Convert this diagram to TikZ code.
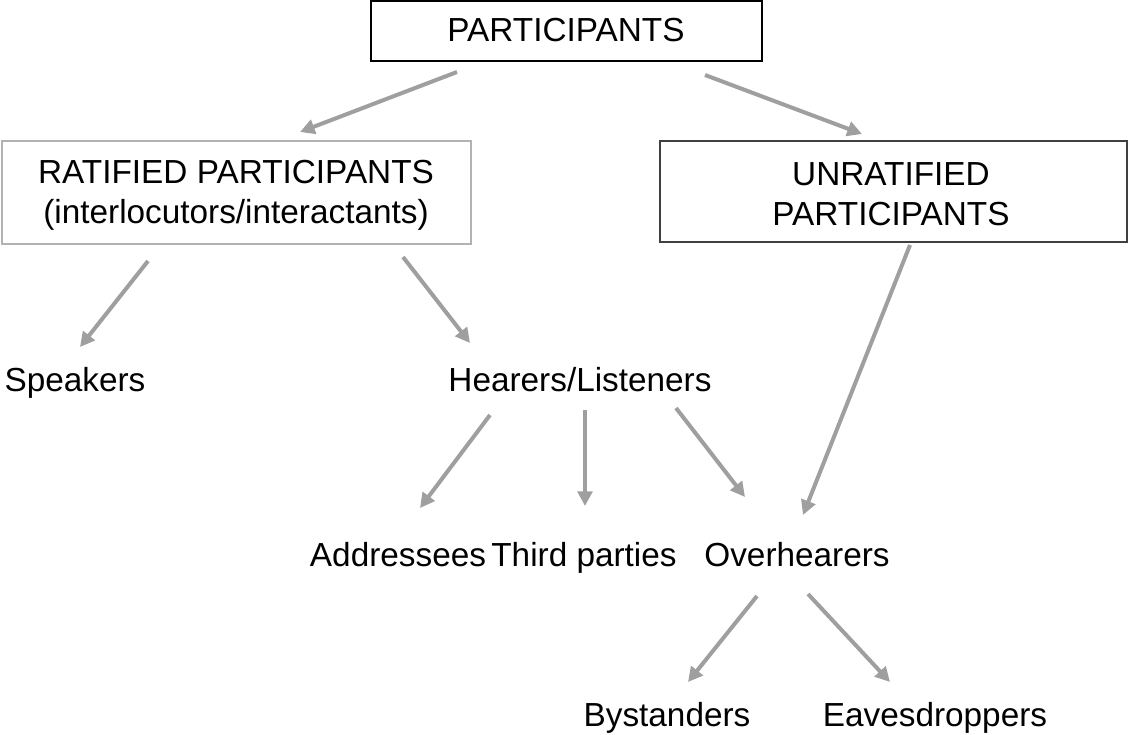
\documentclass[tikz,border=0pt]{standalone}
\usepackage{fontspec}
\setmainfont{Liberation Sans}
\usetikzlibrary{arrows.meta}
\begin{document}
\begin{tikzpicture}[x=0.75pt,y=-0.75pt,
  lbl/.style={font=\fontsize{25}{30}\selectfont,inner sep=0pt,align=center,text height=18pt,text depth=5pt},
  arr/.style={draw=gray!75,line width=3pt,-{Triangle[length=11pt,width=11pt]}}]
\useasboundingbox (0,0) rectangle (1132,735);
\draw[line width=1.6pt,black] (371,1) rectangle (762,61);
\draw[line width=1.6pt,gray!60] (2,141) rectangle (471,244);
\draw[line width=1.6pt,black!75] (660,141) rectangle (1127,242);
\node[lbl] (p) at (566,33) {PARTICIPANTS};
\node[lbl,text height=,text depth=] (r) at (236,195) {RATIFIED PARTICIPANTS\\[0pt](interlocutors/interactants)};
\node[lbl,text height=,text depth=] (u) at (891,194) {UNRATIFIED\\[0pt]PARTICIPANTS};
\node[lbl] (s) at (75,383) {Speakers};
\node[lbl] (h) at (580,383) {Hearers/Listeners};
\node[lbl] (a) at (398,558) {Addressees};
\node[lbl] (t) at (584,558) {Third parties};
\node[lbl] (o) at (797,558) {Overhearers};
\node[lbl] (b) at (667,718) {Bystanders};
\node[lbl] (e) at (935,718) {Eavesdroppers};
\coordinate (p1) at (457,72); \coordinate (r1) at (300,132);
\coordinate (p2) at (705,75); \coordinate (u1) at (862,134);
\coordinate (r2) at (148,261); \coordinate (s1) at (80,347);
\coordinate (r3) at (403,257); \coordinate (h1) at (470,343);
\coordinate (u2) at (910,245); \coordinate (o1) at (803,515);
\coordinate (h2) at (490,415); \coordinate (a1) at (420,508);
\coordinate (h3) at (585,410); \coordinate (t1) at (585,506);
\coordinate (h4) at (676,408); \coordinate (o2) at (745,497);
\coordinate (o3) at (757,596); \coordinate (b1) at (688,682);
\coordinate (o4) at (808,594); \coordinate (e1) at (890,682);
\draw[arr] (p1)--(r1); \draw[arr] (p2)--(u1);
\draw[arr] (r2)--(s1); \draw[arr] (r3)--(h1);
\draw[arr] (u2)--(o1);
\draw[arr] (h2)--(a1); \draw[arr] (h3)--(t1); \draw[arr] (h4)--(o2);
\draw[arr] (o3)--(b1); \draw[arr] (o4)--(e1);
\end{tikzpicture}
\end{document}
